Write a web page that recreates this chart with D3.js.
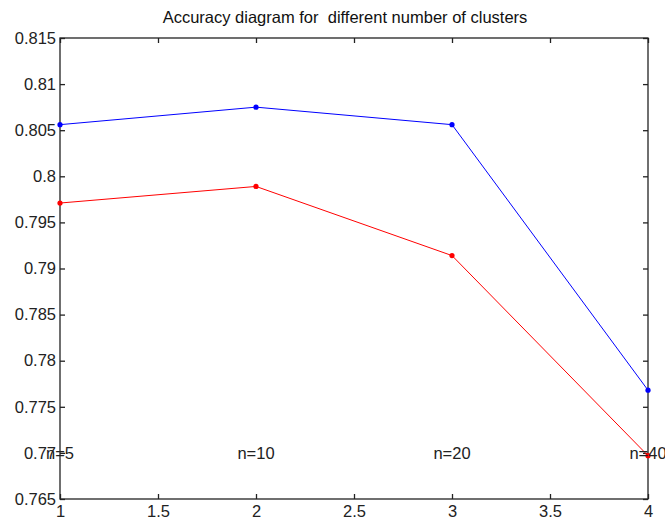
<!DOCTYPE html>
<html><head><meta charset="utf-8">
<script src="https://cdn.jsdelivr.net/npm/d3@7"></script>
<style>body{margin:0;background:#fff}svg{display:block}text{font-family:"Liberation Sans",Arial,sans-serif}</style>
</head><body><div id="chart"></div>
<script>
const xValues = [1, 2, 3, 4];
const blueSeries = [0.8056, 0.8075, 0.8056, 0.7768];
const redSeries = [0.7971, 0.7989, 0.7914, 0.7697];
const pointLabels = ["n=5", "n=10", "n=20", "n=40"];
const labelY = 0.77;
const xTicks = [1, 1.5, 2, 2.5, 3, 3.5, 4];
const yTicks = [0.765, 0.77, 0.775, 0.78, 0.785, 0.79, 0.795, 0.8, 0.805, 0.81, 0.815];
const title = "Accuracy diagram for  different number of clusters";

const W = 665, H = 521;
const m = {left: 60, right: 17, top: 38, bottom: 22};
const svg = d3.select("#chart").append("svg").attr("width", W).attr("height", H);
const x = d3.scaleLinear().domain([1, 4]).range([m.left, W - m.right]);
const y = d3.scaleLinear().domain([0.765, 0.815]).range([H - m.bottom, m.top]);
const fs = 16.5;
const tl = 5;

// frame
svg.append("rect").attr("x", x(1)).attr("y", y(0.815)).attr("width", x(4) - x(1)).attr("height", y(0.765) - y(0.815))
  .attr("fill", "none").attr("stroke", "#222").attr("stroke-width", 1.3);

const fmt = d => String(+d.toFixed(3));
const gx = svg.append("g").attr("transform", `translate(0,${y(0.765)})`)
  .call(d3.axisBottom(x).tickValues(xTicks).tickSizeInner(-tl).tickSizeOuter(0).tickPadding(6).tickFormat(fmt));
const gxt = svg.append("g").attr("transform", `translate(0,${y(0.815)})`)
  .call(d3.axisTop(x).tickValues(xTicks).tickSizeInner(-tl).tickSizeOuter(0).tickFormat(""));
const gy = svg.append("g").attr("transform", `translate(${x(1)},0)`)
  .call(d3.axisLeft(y).tickValues(yTicks).tickSizeInner(-tl).tickSizeOuter(0).tickPadding(4).tickFormat(fmt));
const gyr = svg.append("g").attr("transform", `translate(${x(4)},0)`)
  .call(d3.axisRight(y).tickValues(yTicks).tickSizeInner(-tl).tickSizeOuter(0).tickFormat(""));
[gx, gxt, gy, gyr].forEach(g => {
  g.select(".domain").remove();
  g.selectAll(".tick line").attr("stroke", "#222").attr("stroke-width", 1.3);
  g.selectAll(".tick text").attr("fill", "#222").style("font-size", fs + "px").style("font-family", '"Liberation Sans",Arial,sans-serif');
});
gx.selectAll(".tick text").attr("dy", "0.75em");

const line = d3.line().x((d, i) => x(xValues[i])).y(d => y(d));
[[blueSeries, "#0000ff"], [redSeries, "#ff0000"]].forEach(([s, c]) => {
  svg.append("path").datum(s).attr("d", line).attr("fill", "none").attr("stroke", c).attr("stroke-width", 1);
  svg.selectAll(null).data(s).enter().append("circle")
    .attr("cx", (d, i) => x(xValues[i])).attr("cy", d => y(d)).attr("r", 2.6).attr("fill", c);
});

svg.selectAll(null).data(pointLabels).enter().append("text")
  .attr("x", (d, i) => x(xValues[i])).attr("y", y(labelY)).attr("dy", "0.35em")
  .attr("text-anchor", "middle").attr("fill", "#222").style("font-size", fs + "px").text(d => d);

svg.append("text").attr("x", (x(1) + x(4)) / 2 - 9).attr("y", 23).attr("text-anchor", "middle")
  .attr("fill", "#111").style("font-size", "16.5px").style("white-space", "pre").text(title);
</script></body></html>
